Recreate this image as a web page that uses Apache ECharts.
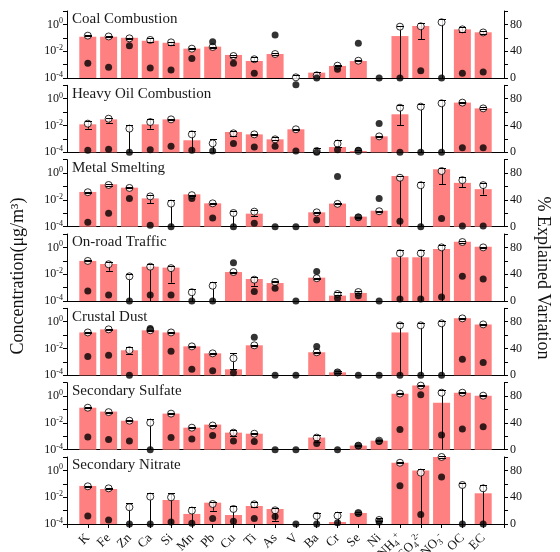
<!DOCTYPE html>
<html>
<head>
<meta charset="utf-8">
<script src="https://cdn.jsdelivr.net/npm/echarts@6/dist/echarts.min.js"></script>
<style>
  html, body { margin: 0; padding: 0; background: #fff; }
  #chart { width: 560px; height: 552px; }
</style>
</head>
<body>
<div id="chart"></div>
<script>
// Species on the x axis
const species = ['K','Fe','Zn','Ca','Si','Mn','Pb','Cu','Ti','As','V','Ba','Cr','Se','Ni','NH4+','SO42-','NO3-','OC','EC'];

// Concentrations are stored as log10(µg/m³); F marks a lower bound below the axis floor.
const F = -9;

const coalBar  = [-0.92,-0.92,-1.00,-1.22,-1.37,-1.81,-1.66,-2.28,-2.73,-2.21,null,-3.60,-3.10,-2.73,null,-0.87,-0.12,null,-0.37,-0.59];
const coalMean = [-0.84,-0.90,-1.04,-1.16,-1.34,-1.81,-1.69,-2.36,-2.60,-2.21,-3.95,-3.80,-3.08,-2.71,null,-0.17,-0.14,0.16,-0.37,-0.60];
const coalHi   = [-0.80,-0.86,-0.98,-1.02,-1.30,-1.76,-1.65,-2.30,-2.46,-2.17,-3.80,-3.55,-3.03,-2.67,null,-0.10,0.08,0.40,-0.22,-0.50];
const coalLo   = [-0.90,-0.94,-1.10,-1.35,-1.54,-1.86,-1.73,-2.42,-2.73,-2.25,F,F,-3.13,-2.75,null,F,-1.09,F,-0.55,-0.70];
const coalPct  = [22,16,48,15,12,29,54,22,7,64,-10,0,13,52,0,0,11,0,7,9];

const oilBar  = [-1.91,-1.54,null,-1.91,-1.54,-3.10,null,-2.48,-2.66,-3.03,-2.28,null,-3.60,-3.90,-2.81,-1.16,null,null,-0.29,-0.72];
const oilMean = [-1.86,-1.49,-2.23,-1.74,-1.54,-2.66,-3.33,-2.58,-2.66,-3.03,-2.28,-3.90,-3.35,-3.90,-2.81,-0.67,-0.59,-0.34,-0.29,-0.72];
const oilHi   = [-1.66,-1.44,-1.96,-1.49,-1.50,-2.41,-3.03,-2.41,-2.62,-2.86,-2.24,-3.65,-3.08,-3.85,-2.77,-0.49,-0.37,-0.10,-0.25,-0.59];
const oilLo   = [-2.23,-1.78,F,-2.23,-1.58,F,F,-2.78,-2.70,-3.07,-2.32,F,-3.60,-3.95,-2.85,-1.96,F,F,-0.33,-0.76];
const oilPct  = [3,4.5,0,4,9,3,2,13,8,9,2,0,4,3,43,0,0,0,7,7];

const metalBar  = [-1.41,-0.84,-1.09,-1.89,null,-1.59,-2.26,null,-3.03,null,null,-2.93,-2.28,-3.25,-2.81,-0.22,null,0.28,-0.73,-1.20];
const metalMean = [-1.43,-0.89,-1.11,-1.74,-2.28,-1.65,-2.26,-2.98,-2.88,null,null,-2.93,-2.30,-3.30,-2.85,-0.35,-0.91,0.15,-0.53,-0.90];
const metalHi   = [-1.39,-0.85,-1.07,-1.60,-2.04,-1.60,-2.22,-2.80,-2.75,null,null,-2.89,-2.26,-3.26,-2.81,-0.20,-0.64,0.40,-0.30,-0.73];
const metalLo   = [-1.47,-0.93,-1.15,-2.23,F,-1.70,-2.30,F,-3.20,null,null,-2.97,-2.34,-3.34,-2.89,F,F,-0.83,-1.03,-1.60];
const metalPct  = [6.5,20,42,2,0,42,13,0,5,0,0,10,75,14,42,8,0,12,1,1];

const trafficBar  = [-1.01,-1.24,null,-1.44,-1.51,null,null,-1.84,-2.36,-2.66,null,-2.26,-3.60,-3.40,null,-0.74,-0.74,-0.12,0.43,0.05];
const trafficMean = [-1.01,-1.26,-2.16,-1.44,-1.55,-3.35,-2.86,-1.84,-2.41,-2.58,null,-2.30,-3.48,-3.33,null,-0.44,-0.44,0.00,0.40,0.00];
const trafficHi   = [-0.97,-1.09,-1.99,-1.24,-1.37,-3.10,-2.60,-1.80,-2.23,-2.54,null,-2.26,-3.30,-3.29,null,-0.20,-0.20,0.18,0.44,0.04];
const trafficLo   = [-1.05,-1.74,F,F,-2.63,F,F,-1.88,-2.86,-2.62,null,-2.34,-3.52,-3.37,null,F,F,F,0.36,-0.04];
const trafficPct  = [15,9,0,9,9,0,0,57,14,19,0,44,4,8,0,3,3,6,37,33];

const dustBar  = [-0.80,-0.57,-2.13,-0.64,-0.80,-1.84,-2.36,-3.55,-1.76,null,null,-2.28,-3.78,null,null,-0.80,null,null,0.25,-0.20];
const dustMean = [-0.80,-0.57,-2.13,-0.64,-0.80,-1.84,-2.36,-2.73,-1.76,null,null,-2.28,-3.78,null,null,-0.27,-0.27,-0.12,0.25,-0.20];
const dustHi   = [-0.76,-0.53,-1.91,-0.60,-0.76,-1.80,-2.32,-2.36,-1.72,null,null,-2.24,-3.70,null,null,-0.10,-0.10,0.05,0.29,-0.16];
const dustLo   = [-0.84,-0.61,-2.40,-0.68,-0.84,-1.88,-2.40,-3.55,-1.80,null,null,-2.32,-3.86,null,null,F,F,F,0.21,-0.24];
const dustPct  = [28,30,0,70,36,9,7,4,57,0,0,43,4,0,0,0,0,0,24,19];

const sulfateBar  = [-0.87,-1.16,-1.84,null,-1.31,-2.36,-2.13,-2.73,-2.81,null,null,-3.10,null,-3.70,-3.33,0.18,0.78,-0.50,0.25,0.03];
const sulfateMean = [-0.87,-1.20,-1.84,-1.99,-1.31,-2.36,-2.20,-2.73,-2.81,null,null,-3.10,null,-3.70,-3.33,0.18,0.78,0.25,0.25,0.03];
const sulfateHi   = [-0.83,-1.16,-1.80,-1.70,-1.27,-2.32,-2.16,-2.51,-2.77,null,null,-2.90,null,-3.66,-3.29,0.22,0.82,0.48,0.29,0.07];
const sulfateLo   = [-0.91,-1.24,-1.88,F,-1.35,-2.40,-2.24,-2.96,-2.85,null,null,-3.40,null,-3.74,-3.37,0.14,0.74,F,0.21,-0.01];
const sulfatePct  = [19,15,13,0,18,16,21,13,12,0,0,9,0,6,12,30,82,22,31,34];

const nitrateBar  = [-1.16,-1.39,null,null,-2.21,-3.25,-2.41,-3.33,-2.66,-2.88,null,null,-3.85,-3.18,null,0.57,0.00,1.00,null,-1.71];
const nitrateMean = [-1.19,-1.34,-2.75,-1.96,-2.01,-3.00,-2.51,-2.88,-2.53,-2.98,null,-3.40,-3.38,-3.18,-3.70,0.57,-0.17,1.00,-1.09,-1.34];
const nitrateHi   = [-1.13,-1.29,-2.46,-1.71,-1.71,-2.75,-2.34,-2.66,-2.38,-2.78,null,-3.16,-3.13,-3.14,-3.55,0.61,0.08,1.04,-0.92,-1.07];
const nitrateLo   = [-1.23,-1.38,F,F,F,F,-3.00,F,-2.71,-3.75,null,F,F,-3.22,-3.80,0.53,F,0.96,F,F];
const nitratePct  = [12,6,0,0,3,1,8,4,8,11,0,0,2,16,3,57,14,70,0,0];

const panelNames = ['Coal Combustion','Heavy Oil Combustion','Metal Smelting','On-road Traffic','Crustal Dust','Secondary Sulfate','Secondary Nitrate'];

const panels = [
  { bar: coalBar,    mean: coalMean,    hi: coalHi,    lo: coalLo,    pct: coalPct },
  { bar: oilBar,     mean: oilMean,     hi: oilHi,     lo: oilLo,     pct: oilPct },
  { bar: metalBar,   mean: metalMean,   hi: metalHi,   lo: metalLo,   pct: metalPct },
  { bar: trafficBar, mean: trafficMean, hi: trafficHi, lo: trafficLo, pct: trafficPct },
  { bar: dustBar,    mean: dustMean,    hi: dustHi,    lo: dustLo,    pct: dustPct },
  { bar: sulfateBar, mean: sulfateMean, hi: sulfateHi, lo: sulfateLo, pct: sulfatePct },
  { bar: nitrateBar, mean: nitrateMean, hi: nitrateHi, lo: nitrateLo, pct: nitratePct }
];

const SERIF = '"Liberation Serif","Times New Roman",serif';
const LOG_FLOOR = -4;           // 10^-4 at the bottom of each panel
const LOG_SPAN = 5;             // up to 10^1
const toAxis = v => Math.max(v, LOG_FLOOR) - LOG_FLOOR;

// Category slots: one blank slot at each end so the species sit one step inside the frame
const cats = [' '].concat(species, ['  ']);
const richCat = {
  'NH4+':  '{t|NH}{sb|4}{sp|+}',
  'SO42-': '{t|SO}{sb|4}{sp|2-}',
  'NO3-':  '{t|NO}{sb|3}{sp|-}'
};

const PANEL_TOP = 11, PANEL_STEP = 74.33, PANEL_H = 67, LEFT = 67, RIGHT = 56;

function stemItem(params, api) {
  const x = api.value(0);
  const a = api.coord([x, api.value(1)]);
  const b = api.coord([x, api.value(2)]);
  const px = Math.round(a[0]) + 0.5;
  return { type: 'line', shape: { x1: px, y1: a[1], x2: px, y2: b[1] },
           style: { stroke: '#000', lineWidth: 1 } };
}
function capItem(params, api) {
  const x = api.value(0);
  const b = api.coord([x, api.value(2)]);
  const px = Math.round(b[0]) + 0.5;
  const w = 3.5;
  const kids = [{ type: 'line', shape: { x1: px - w, y1: Math.round(b[1]) + 0.5, x2: px + w, y2: Math.round(b[1]) + 0.5 },
                  style: { stroke: '#000', lineWidth: 1 } }];
  if (api.value(3)) {
    const a = api.coord([x, api.value(1)]);
    kids.push({ type: 'line', shape: { x1: px - w, y1: Math.round(a[1]) + 0.5, x2: px + w, y2: Math.round(a[1]) + 0.5 },
                style: { stroke: '#000', lineWidth: 1 } });
  }
  return { type: 'group', children: kids };
}

const grid = [], xAxis = [], yAxis = [], series = [], graphic = [];

panels.forEach((p, k) => {
  const top = PANEL_TOP + k * PANEL_STEP;
  const last = k === panels.length - 1;
  grid.push({ left: LEFT, right: RIGHT, top: top, height: PANEL_H, containLabel: false, outerBoundsMode: 'none' });

  xAxis.push({
    type: 'category', gridIndex: k, data: cats, boundaryGap: false,
    axisLine: { lineStyle: { color: '#000', width: 1 } },
    axisTick: { show: last, length: 4, interval: 0, lineStyle: { color: '#000' } },
    axisLabel: {
      show: last, interval: 0, rotate: 45, margin: 12,
      fontFamily: SERIF, fontSize: 13, color: '#111',
      formatter: v => richCat[v] || ('{t|' + v.trim() + '}'),
      rich: {
        t:  { fontFamily: SERIF, fontSize: 13, color: '#111', lineHeight: 16 },
        sb: { fontFamily: SERIF, fontSize: 9, color: '#111', lineHeight: 9, verticalAlign: 'bottom' },
        sp: { fontFamily: SERIF, fontSize: 9, color: '#111', lineHeight: 9, verticalAlign: 'top' }
      }
    },
    splitLine: { show: false }
  });

  yAxis.push({
    type: 'value', gridIndex: k, min: 0, max: LOG_SPAN, interval: 1, position: 'left',
    axisLine: { show: true, lineStyle: { color: '#000', width: 1 } },
    axisTick: { show: true, length: 4, lineStyle: { color: '#000' } },
    splitLine: { show: false },
    axisLabel: {
      margin: 4,
      formatter: v => {
        const e = Math.round(v) + LOG_FLOOR;
        if (e % 2 !== 0 || e > 0) return '';
        return '{b|10}{s|' + (e < 0 ? '-' + (-e) : e) + '}';
      },
      rich: {
        b: { fontFamily: SERIF, fontSize: 12, color: '#111', lineHeight: 14 },
        s: { fontFamily: SERIF, fontSize: 8, color: '#111', lineHeight: 8, verticalAlign: 'top' }
      }
    }
  });
  yAxis.push({
    type: 'value', gridIndex: k, min: 0, max: 100, interval: 20, position: 'right',
    axisLine: { show: true, lineStyle: { color: '#000', width: 1 } },
    axisTick: { show: true, length: 4, lineStyle: { color: '#000' } },
    splitLine: { show: false },
    axisLabel: {
      margin: 6, fontFamily: SERIF, fontSize: 12, color: '#111',
      formatter: v => (v % 40 === 0 ? String(v) : '')
    }
  });

  const barData = [], errData = [], meanData = [], pctData = [];
  species.forEach((s, i) => {
    const x = i + 1;
    if (p.bar[i] != null) barData.push([x, toAxis(p.bar[i])]);
    if (p.mean[i] != null) {
      meanData.push([x, toAxis(p.mean[i])]);
      errData.push([x, toAxis(p.lo[i]), toAxis(p.hi[i]), p.lo[i] > LOG_FLOOR ? 1 : 0]);
    }
    pctData.push([x, p.pct[i]]);
  });

  series.push({
    type: 'bar', xAxisIndex: k, yAxisIndex: 2 * k, data: barData,
    barWidth: 17, itemStyle: { color: '#FF8080' }, silent: true, z: 2
  });
  series.push({
    type: 'custom', xAxisIndex: k, yAxisIndex: 2 * k, data: errData,
    encode: { x: 0, y: [1, 2] }, renderItem: stemItem, silent: true, z: 3, clip: false
  });
  series.push({
    type: 'scatter', xAxisIndex: k, yAxisIndex: 2 * k, data: meanData,
    symbol: 'circle', symbolSize: 7,
    itemStyle: { color: '#fff', borderColor: '#000', borderWidth: 1 },
    silent: true, z: 4, clip: false
  });
  series.push({
    type: 'custom', xAxisIndex: k, yAxisIndex: 2 * k, data: errData,
    encode: { x: 0, y: [1, 2] }, renderItem: capItem, silent: true, z: 5, clip: false
  });
  series.push({
    type: 'scatter', xAxisIndex: k, yAxisIndex: 2 * k + 1, data: pctData,
    symbol: 'circle', symbolSize: 7, itemStyle: { color: '#000' },
    silent: true, z: 6, clip: false
  });

  graphic.push({
    type: 'text', left: 72, top: top + 1, z: 10,
    style: { text: panelNames[k], fontFamily: SERIF, fontSize: 15, fill: '#1a1a1a' }
  });
});

graphic.push({
  type: 'text', x: 18, y: 276, rotation: Math.PI / 2,
  style: { text: 'Concentration(μg/m³)', fontFamily: SERIF, fontSize: 18, fill: '#111',
           align: 'center', verticalAlign: 'middle', textAlign: 'center', textVerticalAlign: 'middle' }
});
graphic.push({
  type: 'text', x: 543, y: 278, rotation: -Math.PI / 2,
  style: { text: '% Explained Variation', fontFamily: SERIF, fontSize: 18, fill: '#111',
           align: 'center', verticalAlign: 'middle', textAlign: 'center', textVerticalAlign: 'middle' }
});

const chart = echarts.init(document.getElementById('chart'), null, { renderer: 'canvas' });
chart.setOption({
  animation: false,
  backgroundColor: '#fff',
  grid, xAxis, yAxis, series, graphic
});
</script>
</body>
</html>
